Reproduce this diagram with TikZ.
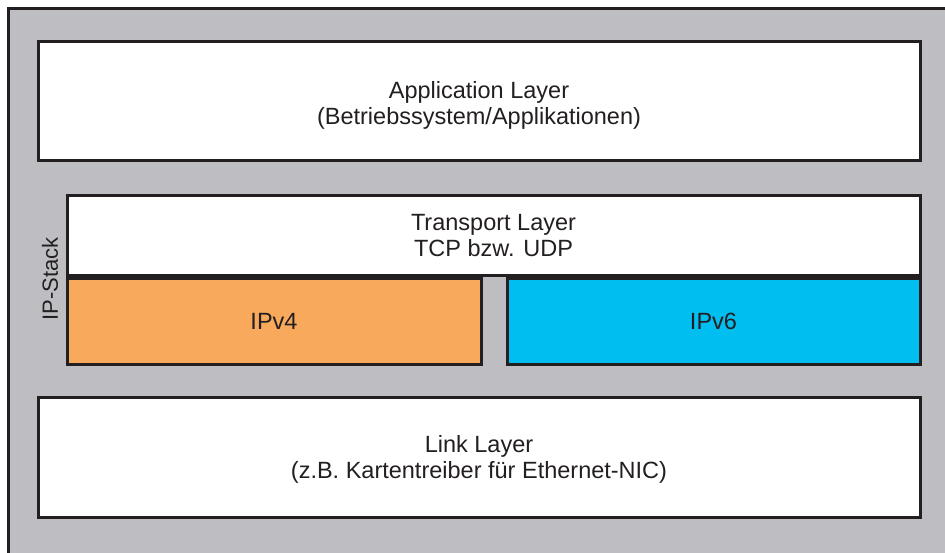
\documentclass[tikz,border=0pt]{standalone}
\usepackage{fontspec}
\setmainfont{Liberation Sans}
\usepackage{tikz}
\usetikzlibrary{positioning}
\definecolor{framec}{RGB}{190,190,194}
\definecolor{linec}{RGB}{35,31,32}
\definecolor{ipvfourc}{RGB}{248,169,92}
\definecolor{ipvsixc}{RGB}{0,190,240}
\tikzset{
  layer/.style = {draw=linec, line width=3pt, fill=white, inner sep=0pt},
  ipbox/.style = {layer, minimum height=86pt},
  lbl/.style   = {font=\fontsize{23.5}{26}\selectfont, text=linec, align=center},
}

\begin{document}
\begin{tikzpicture}[x=1pt, y=-1pt]
\useasboundingbox (0,0) rectangle (945,552);
\fill[white] (0,0) rectangle (945,552);

% outer frame
\draw[draw=linec, line width=3pt, fill=framec] (8,8) rectangle (960,570);

\node[layer, minimum width=882pt, minimum height=119pt] (app) at (479,101) {};
\node[lbl, yshift=-4pt] (apptext) at (app.center)
  {Application Layer\\(Betriebssystem/Applikationen)};

\node[layer, minimum width=853pt, minimum height=80pt] (trans) at (493.5,235) {};
\node[lbl, yshift=-1pt] (transtext) at (trans.center) {Transport Layer\\TCP bzw. UDP};

% IP versions
\node[ipbox, fill=ipvfourc, minimum width=414pt, anchor=north west] (ipv4) at (trans.south west) {};
\node[lbl] (ipv4text) at (ipv4.center) {IPv4};
\node[ipbox, fill=ipvsixc, minimum width=413pt, anchor=north east] (ipv6) at (trans.south east) {};
\node[lbl] (ipv6text) at (ipv6.center) {IPv6};

\node[layer, minimum width=882pt, minimum height=120pt] (link) at (479,457) {};
\node[lbl, yshift=-2pt] (linktext) at (link.center)
  {Link Layer\\(z.B. Kartentreiber für Ethernet-NIC)};

\node[lbl, font=\fontsize{22}{26}\selectfont, rotate=90] (ipstack) at (50,279) {IP-Stack};

\end{tikzpicture}
\end{document}
